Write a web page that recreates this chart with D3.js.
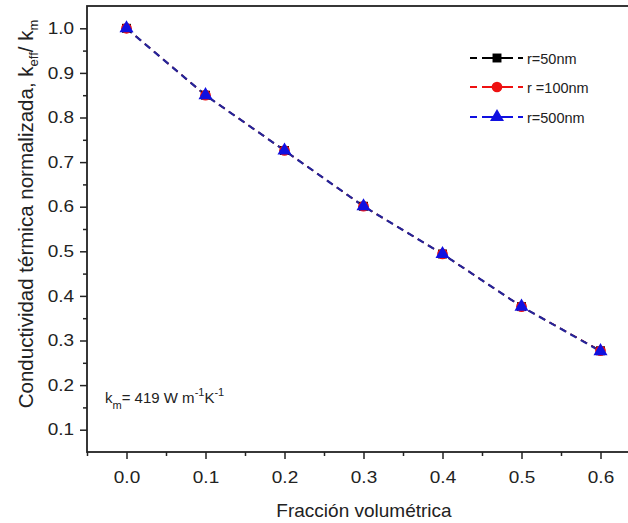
<!DOCTYPE html>
<html><head><meta charset="utf-8">
<script src="https://cdn.jsdelivr.net/npm/d3@7"></script>
<style>body{margin:0;background:#fff}svg{display:block;font-family:"Liberation Sans",Arial,sans-serif}</style>
</head><body>
<script>
const fraction = [0.0, 0.1, 0.2, 0.3, 0.4, 0.5, 0.6];
const r50 = [1.000, 0.850, 0.726, 0.601, 0.494, 0.376, 0.277];
const r100 = [1.000, 0.850, 0.726, 0.601, 0.494, 0.376, 0.277];
const r500 = [1.000, 0.850, 0.726, 0.601, 0.494, 0.376, 0.276];
const seriesNames = ["r=50nm", "r =100nm", "r=500nm"];
const xTicks = [0.0, 0.1, 0.2, 0.3, 0.4, 0.5, 0.6];
const yTicks = [0.1, 0.2, 0.3, 0.4, 0.5, 0.6, 0.7, 0.8, 0.9, 1.0];

const W = 628, H = 523;
const svg = d3.select("body").append("svg").attr("width", W).attr("height", H);
const x = d3.scaleLinear().domain([-0.05, 0.65]).range([87, 640]);
const y = d3.scaleLinear().domain([0.05, 1.05]).range([452, 6]);
const SX = 1.15;

// frame
svg.append("rect").attr("x", x(-0.05)).attr("y", y(1.05)).attr("width", x(0.65) - x(-0.05)).attr("height", y(0.05) - y(1.05))
  .attr("fill", "none").attr("stroke", "#222").attr("stroke-width", 1.8);

// x axis
const xAxis = d3.axisBottom(x).tickValues(xTicks).tickFormat(d3.format(".1f")).tickSize(7).tickSizeOuter(0);
const gx = svg.append("g").attr("transform", `translate(0,${y(0.05)})`).call(xAxis);
gx.select(".domain").remove();
gx.selectAll(".tick line").attr("stroke", "#222").attr("stroke-width", 1.5);
gx.selectAll(".tick text").attr("font-size", 16.5).attr("fill", "#222").attr("y", 19).attr("dy", "0.71em")
  .attr("transform", `scale(${SX},1)`);
const xMinor = d3.axisBottom(x).tickValues([-0.05, 0.05, 0.15, 0.25, 0.35, 0.45, 0.55]).tickFormat("").tickSize(4).tickSizeOuter(0);
const gxm = svg.append("g").attr("transform", `translate(0,${y(0.05)})`).call(xMinor);
gxm.select(".domain").remove();
gxm.selectAll(".tick line").attr("stroke", "#222").attr("stroke-width", 1.5);

// y axis
const yAxis = d3.axisLeft(y).tickValues(yTicks).tickFormat(d3.format(".1f")).tickSize(7).tickSizeOuter(0);
const gy = svg.append("g").attr("transform", `translate(${x(-0.05)},0)`).call(yAxis);
gy.select(".domain").remove();
gy.selectAll(".tick line").attr("stroke", "#222").attr("stroke-width", 1.5);
gy.selectAll(".tick text").attr("font-size", 16.5).attr("fill", "#222").attr("x", -13 / SX)
  .attr("transform", `scale(${SX},1)`);
const yMinor = d3.axisLeft(y).tickValues([0.15, 0.25, 0.35, 0.45, 0.55, 0.65, 0.75, 0.85, 0.95]).tickFormat("").tickSize(4).tickSizeOuter(0);
const gym = svg.append("g").attr("transform", `translate(${x(-0.05)},0)`).call(yMinor);
gym.select(".domain").remove();
gym.selectAll(".tick line").attr("stroke", "#222").attr("stroke-width", 1.5);

// titles
svg.append("text").attr("x", 364).attr("y", 517).attr("text-anchor", "middle").attr("font-size", 19).attr("fill", "#222").text("Fracción volumétrica");
const yl = svg.append("text").attr("transform", `translate(33,214) rotate(-90)`).attr("text-anchor", "middle").attr("font-size", 20.5).attr("fill", "#222");
yl.append("tspan").text("Conductividad térmica normalizada, k");
yl.append("tspan").attr("font-size", 13).attr("dy", 5).text("eff");
yl.append("tspan").attr("dy", -5).text("/ k");
yl.append("tspan").attr("font-size", 13).attr("dy", 5).text("m");

// annotation
const an = svg.append("text").attr("x", 105).attr("y", 403).attr("font-size", 15).attr("fill", "#222");
an.append("tspan").text("k");
an.append("tspan").attr("font-size", 11).attr("dy", 6).text("m");
an.append("tspan").attr("dy", -6).text("= 419 W m");
an.append("tspan").attr("font-size", 11).attr("dy", -7).text("-1");
an.append("tspan").attr("dy", 7).text("K");
an.append("tspan").attr("font-size", 11).attr("dy", -7).text("-1");

// series
const series = [
  {name: seriesNames[0], vals: r50, color: "#000000", line: "#000000", shape: d3.symbolSquare, size: 80, lw: 1.4},
  {name: seriesNames[1], vals: r100, color: "#ee1111", line: "#ee1111", shape: d3.symbolCircle, size: 90, lw: 1.4},
  {name: seriesNames[2], vals: r500, color: "#1010e0", line: "#25259a", shape: d3.symbolTriangle, size: 85, lw: 2.2}
];
const line = d3.line().x((d, i) => x(fraction[i])).y(d => y(d));
series.forEach(s => {
  svg.append("path").datum(s.vals).attr("d", line).attr("fill", "none").attr("stroke", s.line).attr("stroke-width", s.lw).attr("stroke-dasharray", "7,5");
});
series.forEach(s => {
  svg.append("g").selectAll("path").data(s.vals).join("path")
    .attr("transform", (d, i) => `translate(${x(fraction[i])},${y(d)})`)
    .attr("d", d3.symbol().type(s.shape).size(s.size)).attr("fill", s.color);
});

// legend
const ly = [58, 87, 117];
series.forEach((s, i) => {
  const g = svg.append("g").attr("transform", `translate(470,${ly[i]})`);
  g.append("line").attr("x1", 0).attr("x2", 53).attr("y1", 0).attr("y2", 0).attr("stroke", s.color).attr("stroke-width", 2).attr("stroke-dasharray", "7,5");
  g.append("line").attr("x1", 17).attr("x2", 36).attr("y1", 0).attr("y2", 0).attr("stroke", s.color).attr("stroke-width", 2);
  g.append("path").attr("transform", "translate(27,0)").attr("d", d3.symbol().type(s.shape).size(s.size)).attr("fill", s.color);
  g.append("text").attr("x", 57).attr("y", 6).attr("font-size", 14.5).attr("fill", "#222").text(s.name);
});
</script>
</body></html>
